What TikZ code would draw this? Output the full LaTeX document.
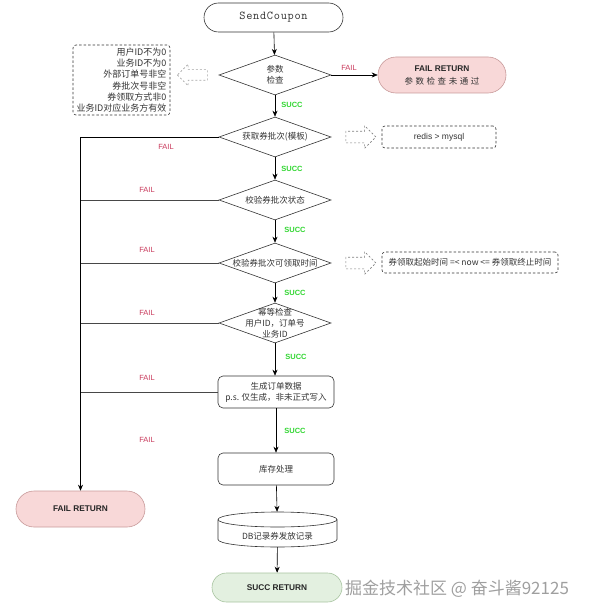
\documentclass[tikz,border=0pt]{standalone}
\usepackage{fontspec}
\setmainfont{Noto Sans CJK SC}
\newfontfamily\latf{Liberation Sans}
\newfontfamily\monof[LetterSpace=6]{Latin Modern Mono}
\usetikzlibrary{shapes.geometric,shapes.arrows,arrows.meta}
\definecolor{ink}{HTML}{333333}
\definecolor{failred}{HTML}{C8385A}
\definecolor{succgreen}{HTML}{33D633}
\definecolor{failfill}{HTML}{F8D8D8}
\definecolor{faildraw}{HTML}{C89A9A}
\definecolor{succfill}{HTML}{E3F0E0}
\definecolor{succdraw}{HTML}{A8C4A0}
\begin{document}
\begin{tikzpicture}[x=1pt,y=-1pt,
  txt/.style={font=\fontsize{8.5}{11}\selectfont, text=ink},
  dia/.style={draw=ink, shape=diamond, minimum width=112pt, minimum height=40pt, inner sep=0pt, line width=0.6pt},
  procbox/.style={draw=ink, rounded corners=5pt, minimum width=116pt, minimum height=32pt, inner sep=1pt, line width=0.6pt, txt, align=center},
  pill/.style={rounded corners=14.5pt, minimum height=29pt, inner sep=1pt, line width=0.6pt, align=center},
  arr/.style={-{Stealth[length=6pt,width=5pt]}, draw=black, line width=0.6pt},
  ln/.style={draw=ink!90, line width=0.6pt},
  fl/.style={font=\latf\fontsize{7.5}{9}\selectfont, text=failred},
  sc/.style={font=\latf\bfseries\fontsize{7.5}{9}\selectfont, text=succgreen},
  hollow/.style={single arrow, draw=gray, dashed, dash pattern=on 2pt off 2pt, minimum height=30pt, inner sep=0pt, single arrow head extend=5.5pt, line width=0.6pt},
  dbox/.style={draw=ink, dashed, dash pattern=on 2.5pt off 2pt, rounded corners=3pt, line width=0.6pt, txt, inner sep=1pt}
]
\useasboundingbox (0,0) rectangle (589,615);

% start
\node[pill, draw=ink, minimum width=139pt, font=\monof\fontsize{12}{14}\selectfont, text=ink] (start) at (273.5,17.5) {SendCoupon};

% diamonds
\node[dia, label={[txt,align=center]center:参数\\检查}] (d1) at (275,75) {};
\node[dia, label={[txt,align=center]center:获取券批次(模板)}] (d2) at (275,137) {};
\node[dia, label={[txt,align=center]center:校验券批次状态}] (d3) at (275,200) {};
\node[dia, label={[txt,align=center]center:校验券批次可领取时间}] (d4) at (275,263) {};
\node[dia, label={[txt,align=center]center:幂等检查\\用户ID，订单号\\业务ID}] (d5) at (275,323) {};

% process boxes
\node[procbox] (gen) at (276,392) {生成订单数据\\p.s. 仅生成，非未正式写入};
\node[procbox] (stock) at (276,469) {库存处理};

% database cylinder
\node[minimum width=119pt, minimum height=35pt, inner sep=0pt] (db) at (277.5,529.5) {};
\draw[draw=ink, line width=0.6pt] (218,519.5) arc[start angle=180, end angle=-180, x radius=59.5pt, y radius=7.5pt];
\draw[draw=ink, line width=0.6pt] (218,519.5) -- (218,539.5) arc[start angle=180, end angle=360, x radius=59.5pt, y radius=7.5pt] -- (337,519.5);
\node[txt] (dbt) at (277.5,536) {DB记录券发放记录};

% returns
\node[pill, draw=faildraw, fill=failfill, minimum width=128pt, minimum height=36pt, rounded corners=18pt] (failtop) at (442,75)
  {{\latf\bfseries\fontsize{8.3}{10}\selectfont\color{black!85}FAIL RETURN}\\[1pt]{\addfontfeature{LetterSpace=30}\fontsize{8.5}{10}\selectfont\color{ink}参数检查未通过}};
\node[pill, draw=faildraw, fill=failfill, minimum width=129pt, minimum height=36pt, rounded corners=18pt, font=\latf\bfseries\fontsize{8.3}{10}\selectfont, text=black!85] (failret) at (80.5,509) {FAIL RETURN};
\node[pill, draw=succdraw, fill=succfill, minimum width=130pt, font=\latf\bfseries\fontsize{8.3}{10}\selectfont, text=black!85] (succret) at (277,587.5) {SUCC RETURN};

% side notes
\node[dbox, minimum width=97pt, minimum height=70pt, align=right, font=\fontsize{9}{11.3}\selectfont] (note1) at (121.5,80)
  {用户ID不为0\\业务ID不为0\\外部订单号非空\\券批次号非空\\券领取方式非0\\业务ID对应业务方有效};
\node[hollow, draw=gray!70, shape border rotate=180] (ha1) at (195,75) {\rule{0pt}{10pt}};
\node[hollow] (ha2) at (358,137) {\rule{0pt}{11pt}};
\node[dbox, minimum width=114pt, minimum height=22pt, font=\latf\fontsize{8.5}{10}\selectfont] (note2) at (439,137) {redis > mysql};
\node[hollow] (ha3) at (358,263) {\rule{0pt}{11pt}};
\node[dbox, minimum width=176pt, minimum height=21pt] (note3) at (470,262.5) {券领取起始时间 =< now <= 券领取终止时间};

% main flow
\draw[arr] (start) -- (d1);
\draw[arr] (d1) -- (d2);
\draw[arr] (d2) -- (d3);
\draw[arr] (d3) -- (d4);
\draw[arr] (d4) -- (d5);
\draw[arr] (d5.south) -- (gen.north -| d5.south);
\draw[arr] (gen) -- (stock);
\draw[arr] (stock) -- (db);
\draw[arr] (db) -- (succret);
\draw[arr] (d1.east) -- (failtop.west);

% fail branches
\draw[arr] (d2.west) -| (failret.north);
\draw[ln] (d3.west) -- (d3.west -| failret.north);
\draw[ln] (d4.west) -- (d4.west -| failret.north);
\draw[ln] (d5.west) -- (d5.west -| failret.north);
\draw[ln] (gen.west) -- (gen.west -| failret.north);

% labels
\node[fl] (fl1) at (349,68) {FAIL};
\node[fl] (fl2) at (166,147) {FAIL};
\node[fl] (fl3) at (147,190) {FAIL};
\node[fl] (fl4) at (147,250) {FAIL};
\node[fl] (fl5) at (147,313) {FAIL};
\node[fl] (fl6) at (147,378) {FAIL};
\node[fl] (fl7) at (147,440) {FAIL};
\node[sc] (s1) at (292,105) {SUCC};
\node[sc] (s2) at (292,169) {SUCC};
\node[sc] (s3) at (295,230) {SUCC};
\node[sc] (s4) at (295,293) {SUCC};
\node[sc] (s5) at (296,357) {SUCC};
\node[sc] (s6) at (295,431) {SUCC};

% watermark
\node[font=\fontsize{17}{19}\selectfont, text=gray!75] (wm) at (457,589) {掘金技术社区 @ 奋斗酱92125};
\end{tikzpicture}
\end{document}
